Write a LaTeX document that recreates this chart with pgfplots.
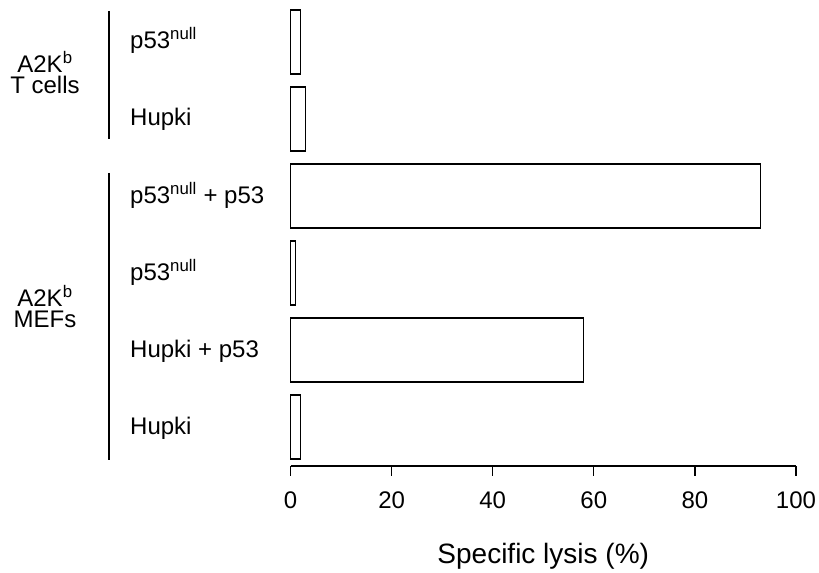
\documentclass[border=0pt]{standalone}
\usepackage{fontspec}
\setmainfont{Liberation Sans}
\usepackage{pgfplots}
\pgfplotsset{compat=1.18}
\newcommand{\lblfont}{\fontsize{24bp}{28bp}\selectfont}
\begin{document}
\begin{tikzpicture}[x=1bp,y=1bp]
\useasboundingbox (0,0) rectangle (819,573);
\begin{axis}[
    at={(290.5bp,107bp)}, anchor=south west,
    width=505.5bp, height=462.5bp, scale only axis,
    clip=false,
    xbar, bar width=0.83,
    xmin=0, xmax=100, ymin=-0.506, ymax=5.5,
    axis x line*=bottom, axis y line*=left,
    y axis line style={draw=none},
    x axis line style={line width=1.3bp, -},
    xtick={0,20,...,100},
    tick align=outside, major tick length=10bp,
    xtick style={line width=1.3bp, black},
    ytick={0,...,5},
    yticklabels={Hupki, Hupki + p53, p53\textsuperscript{null}, p53\textsuperscript{null} + p53, Hupki, p53\textsuperscript{null}},
    ytick style={draw=none},
    /pgf/number format/assume math mode=true,
    tick label style={font=\lblfont},
    yticklabel style={anchor=base west, inner sep=0pt, xshift=-150.5bp, yshift=-7bp},
    xticklabel style={anchor=base, inner sep=0pt, yshift=-33bp},
    xlabel={Specific lysis (\%)},
    xlabel style={font=\fontsize{28bp}{32bp}\selectfont, at={(axis description cs:0.5,0)}, anchor=base, yshift=-98bp},
]
\addplot[draw=black, fill=white, line width=1.3bp] coordinates {
    (2,0) (58,1) (1,2) (93,3) (3,4) (2,5)
};
\end{axis}
\draw[line width=1.3bp] (109,562) -- (109,434);
\draw[line width=1.3bp] (109,400) -- (109,113);
\node[anchor=base, font=\lblfont, inner sep=0pt] at (45,500) {A2K\textsuperscript{b}};
\node[anchor=base, font=\lblfont, inner sep=0pt] at (45,479) {T cells};
\node[anchor=base, font=\lblfont, inner sep=0pt] at (45,266) {A2K\textsuperscript{b}};
\node[anchor=base, font=\lblfont, inner sep=0pt] at (45,245) {MEFs};
\end{tikzpicture}
\end{document}
